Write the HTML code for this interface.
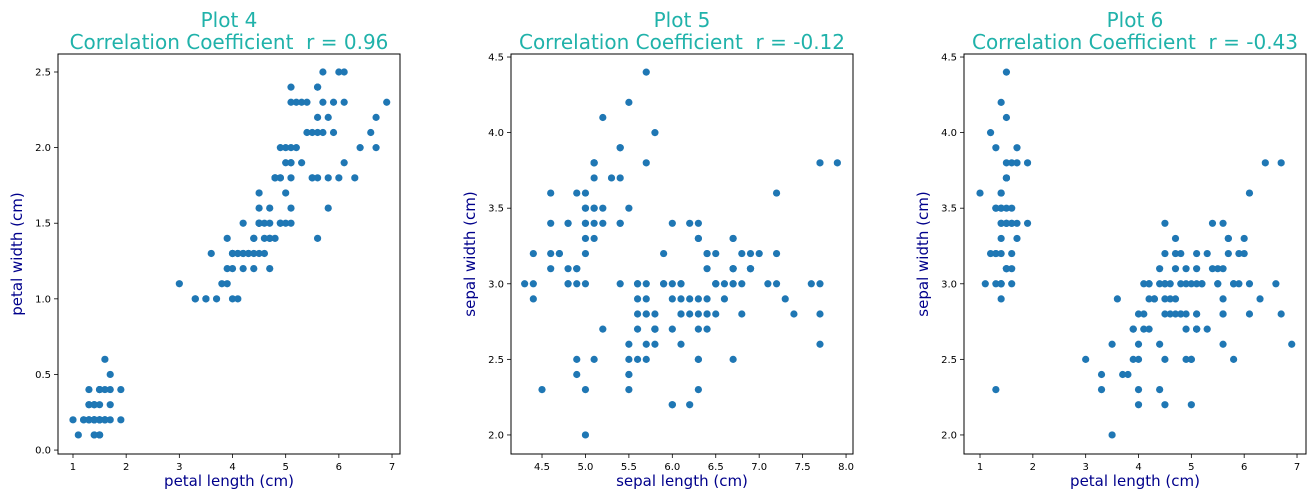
<!DOCTYPE html>
<html><head><meta charset="utf-8">
<style>
html,body{margin:0;padding:0;background:#fff;}
svg{display:block;font-family:"DejaVu Sans","Liberation Sans",sans-serif;}
text{white-space:pre;}
</style></head>
<body>
<svg id="chart" width="1314" height="496" viewBox="0 0 1314 496" xmlns="http://www.w3.org/2000/svg"></svg>
<script>
const sepalLength=[5.1,4.9,4.7,4.6,5.0,5.4,4.6,5.0,4.4,4.9,5.4,4.8,4.8,4.3,5.8,5.7,5.4,5.1,5.7,5.1,5.4,5.1,4.6,5.1,4.8,5.0,5.0,5.2,5.2,4.7,4.8,5.4,5.2,5.5,4.9,5.0,5.5,4.9,4.4,5.1,5.0,4.5,4.4,5.0,5.1,4.8,5.1,4.6,5.3,5.0,
7.0,6.4,6.9,5.5,6.5,5.7,6.3,4.9,6.6,5.2,5.0,5.9,6.0,6.1,5.6,6.7,5.6,5.8,6.2,5.6,5.9,6.1,6.3,6.1,6.4,6.6,6.8,6.7,6.0,5.7,5.5,5.5,5.8,6.0,5.4,6.0,6.7,6.3,5.6,5.5,5.5,6.1,5.8,5.0,5.6,5.7,5.7,6.2,5.1,5.7,
6.3,5.8,7.1,6.3,6.5,7.6,4.9,7.3,6.7,7.2,6.5,6.4,6.8,5.7,5.8,6.4,6.5,7.7,7.7,6.0,6.9,5.6,7.7,6.3,6.7,7.2,6.2,6.1,6.4,7.2,7.4,7.9,6.4,6.3,6.1,7.7,6.3,6.4,6.0,6.9,6.7,6.9,5.8,6.8,6.7,6.7,6.3,6.5,6.2,5.9];
const sepalWidth=[3.5,3.0,3.2,3.1,3.6,3.9,3.4,3.4,2.9,3.1,3.7,3.4,3.0,3.0,4.0,4.4,3.9,3.5,3.8,3.8,3.4,3.7,3.6,3.3,3.4,3.0,3.4,3.5,3.4,3.2,3.1,3.4,4.1,4.2,3.1,3.2,3.5,3.6,3.0,3.4,3.5,2.3,3.2,3.5,3.8,3.0,3.8,3.2,3.7,3.3,
3.2,3.2,3.1,2.3,2.8,2.8,3.3,2.4,2.9,2.7,2.0,3.0,2.2,2.9,2.9,3.1,3.0,2.7,2.2,2.5,3.2,2.8,2.5,2.8,2.9,3.0,2.8,3.0,2.9,2.6,2.4,2.4,2.7,2.7,3.0,3.4,3.1,2.3,3.0,2.5,2.6,3.0,2.6,2.3,2.7,3.0,2.9,2.9,2.5,2.8,
3.3,2.7,3.0,2.9,3.0,3.0,2.5,2.9,2.5,3.6,3.2,2.7,3.0,2.5,2.8,3.2,3.0,3.8,2.6,2.2,3.2,2.8,2.8,2.7,3.3,3.2,2.8,3.0,2.8,3.0,2.8,3.8,2.8,2.8,2.6,3.0,3.4,3.1,3.0,3.1,3.1,3.1,2.7,3.2,3.3,3.0,2.5,3.0,3.4,3.0];
const petalLength=[1.4,1.4,1.3,1.5,1.4,1.7,1.4,1.5,1.4,1.5,1.5,1.6,1.4,1.1,1.2,1.5,1.3,1.4,1.7,1.5,1.7,1.5,1.0,1.7,1.9,1.6,1.6,1.5,1.4,1.6,1.6,1.5,1.5,1.4,1.5,1.2,1.3,1.4,1.3,1.5,1.3,1.3,1.3,1.6,1.9,1.4,1.6,1.4,1.5,1.4,
4.7,4.5,4.9,4.0,4.6,4.5,4.7,3.3,4.6,3.9,3.5,4.2,4.0,4.7,3.6,4.4,4.5,4.1,4.5,3.9,4.8,4.0,4.9,4.7,4.3,4.4,4.8,5.0,4.5,3.5,3.8,3.7,3.9,5.1,4.5,4.5,4.7,4.4,4.1,4.0,4.4,4.6,4.0,3.3,4.2,4.2,4.2,4.3,3.0,4.1,
6.0,5.1,5.9,5.6,5.8,6.6,4.5,6.3,5.8,6.1,5.1,5.3,5.5,5.0,5.1,5.3,5.5,6.7,6.9,5.0,5.7,4.9,6.7,4.9,5.7,6.0,4.8,4.9,5.6,5.8,6.1,6.4,5.6,5.1,5.6,6.1,5.6,5.5,4.8,5.4,5.6,5.1,5.1,5.9,5.7,5.2,5.0,5.2,5.4,5.1];
const petalWidth=[0.2,0.2,0.2,0.2,0.2,0.4,0.3,0.2,0.2,0.1,0.2,0.2,0.1,0.1,0.2,0.4,0.4,0.3,0.3,0.3,0.2,0.4,0.2,0.5,0.2,0.2,0.4,0.2,0.2,0.2,0.2,0.4,0.1,0.2,0.1,0.2,0.2,0.1,0.2,0.2,0.3,0.3,0.2,0.6,0.4,0.3,0.2,0.2,0.2,0.2,
1.4,1.5,1.5,1.3,1.5,1.3,1.6,1.0,1.3,1.4,1.0,1.5,1.0,1.4,1.3,1.4,1.5,1.0,1.5,1.1,1.8,1.3,1.5,1.2,1.3,1.4,1.4,1.7,1.5,1.0,1.1,1.0,1.2,1.6,1.5,1.6,1.5,1.3,1.3,1.3,1.2,1.4,1.2,1.0,1.3,1.2,1.3,1.3,1.1,1.3,
2.5,1.9,2.1,1.8,2.2,2.1,1.7,1.8,1.8,2.5,2.0,1.9,2.1,2.0,2.4,2.3,1.8,2.2,2.3,1.5,2.3,2.0,2.0,1.8,2.1,1.8,1.8,1.8,2.1,1.6,1.9,2.0,2.2,1.5,1.4,2.3,2.4,1.8,1.8,2.1,2.4,2.3,1.9,2.3,2.5,2.3,1.9,2.0,2.3,1.8];
const plotTitles=["Plot 4","Plot 5","Plot 6"];
const corrLabels=["Correlation Coefficient  r = 0.96","Correlation Coefficient  r = -0.12","Correlation Coefficient  r = -0.43"];
const xLabels=["petal length (cm)","sepal length (cm)","petal length (cm)"];
const yLabels=["petal width (cm)","sepal width (cm)","sepal width (cm)"];
const xTicks4=[1,2,3,4,5,6,7];
const yTicks4=[0.0,0.5,1.0,1.5,2.0,2.5];
const xTicks5=[4.5,5.0,5.5,6.0,6.5,7.0,7.5,8.0];
const yTicks5=[2.0,2.5,3.0,3.5,4.0,4.5];
const xTicks6=[1,2,3,4,5,6,7];
const yTicks6=[2.0,2.5,3.0,3.5,4.0,4.5];

const svg=document.getElementById('chart');
const NS='http://www.w3.org/2000/svg';
function mk(tag,attrs,parent){const e=document.createElementNS(NS,tag);for(const k in attrs)e.setAttribute(k,attrs[k]);parent.appendChild(e);return e;}

function panel(i,left,right,top,bottom,xd,yd,xs,ys,xt,yt,xdec,ydec){
  const g=mk('g',{},svg);
  
  
  const sx=v=>left+(v-xd[0])/(xd[1]-xd[0])*(right-left);
  const sy=v=>bottom-(v-yd[0])/(yd[1]-yd[0])*(bottom-top);
  const cx=(left+right)/2;
  const t1=mk('text',{x:cx,y:27,'text-anchor':'middle','font-size':'20',fill:'#20b2aa'},g);t1.textContent=plotTitles[i];
  
  
  const t2=mk('text',{x:cx,y:49,'text-anchor':'middle','font-size':'20',fill:'#20b2aa'},g);t2.textContent=corrLabels[i];
  
  
  const pts=mk('g',{},g);
  
  
  for(let k=0;k<xs.length;k++){
    const c=mk('circle',{cx:sx(xs[k]),cy:sy(ys[k]),r:3.6,fill:'#1f77b4'},pts);
    
    
  }
  const box=mk('rect',{x:left,y:top,width:right-left,height:bottom-top,fill:'none',stroke:'#000','stroke-width':1},g);
  
  
  xt.forEach(v=>{
    const x=sx(v);
    mk('line',{x1:x,x2:x,y1:bottom,y2:bottom+4,stroke:'#000','stroke-width':0.8},g);
    const t=mk('text',{x:x,y:bottom+16,'text-anchor':'middle','font-size':'10',fill:'#000'},g);
    t.textContent=v.toFixed(xdec);
    
    
  });
  yt.forEach(v=>{
    const y=sy(v);
    mk('line',{x1:left-4,x2:left,y1:y,y2:y,stroke:'#000','stroke-width':0.8},g);
    const t=mk('text',{x:left-7,y:y+3.5,'text-anchor':'end','font-size':'10',fill:'#000'},g);
    t.textContent=v.toFixed(ydec);
    
    
  });
  const xl=mk('text',{x:cx,y:486,'text-anchor':'middle','font-size':'15',fill:'#00008b'},g);xl.textContent=xLabels[i];
  
  
  const my=(top+bottom)/2, lx=left-36;
  const yl=mk('text',{x:lx,y:my,'text-anchor':'middle','font-size':'15',fill:'#00008b',transform:`rotate(-90 ${lx} ${my})`},g);yl.textContent=yLabels[i];
  
  
}
panel(0,58,400,54,454,[0.718,7.15],[-0.026,2.619],petalLength,petalWidth,xTicks4,yTicks4,0,1);
panel(1,511,853,54,454,[4.143,8.08],[1.874,4.52],sepalLength,sepalWidth,xTicks5,yTicks5,1,1);
panel(2,964,1306,54,454,[0.697,7.17],[1.874,4.52],petalLength,sepalWidth,xTicks6,yTicks6,0,1);
</script>
</body></html>
